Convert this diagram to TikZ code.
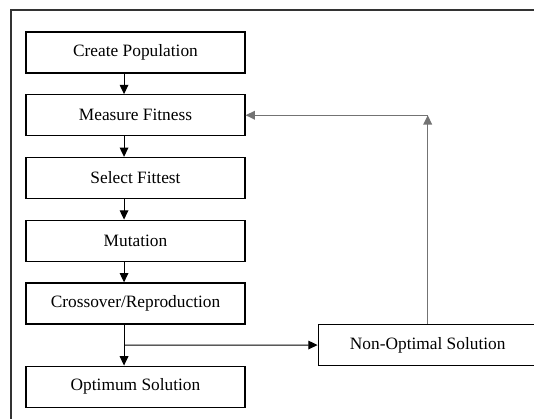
\documentclass[tikz,border=0pt]{standalone}
\usepackage{fontspec}
\setmainfont{Liberation Serif}
\usetikzlibrary{positioning, arrows.meta, calc}

\begin{document}
\begin{tikzpicture}[
  font=\fontsize{13}{15}\selectfont,
  node distance=15.4pt and 54pt,
  stage/.style={draw, line width=0.9pt, fill=white, minimum width=164.25pt,
                minimum height=30.75pt, inner sep=0pt, align=center},
  flow/.style={-{Triangle[length=7pt, width=6.5pt]}, line width=0.8pt, draw=black},
  back/.style={flow, line width=1pt, draw=black!55},
]
\useasboundingbox (0,0) rectangle (400.5pt,-313.5pt);
\clip (0,0) rectangle (400.5pt,-313.5pt);

% outer frame
\draw[line width=0.8pt, black!80] (8.25pt,-330pt) |- (420pt,-7.5pt);

\node[stage] (create) at (101.625pt,-39.375pt) {Create Population};
\node[stage, below=of create] (measure) {Measure Fitness};
\node[stage, below=of measure] (select) {Select Fittest};
\node[stage, below=of select] (mutate) {Mutation};
\node[stage, below=of mutate] (cross) {Crossover/Reproduction};
\node[stage, below=30.75pt of cross] (optimum) {Optimum Solution};

\node[stage, right=54pt of $(cross.east)!0.5!(optimum.east)$] (nonopt)
    {Non-Optimal Solution};

\draw[flow] ([xshift=-8.6pt]create.south) -- ([xshift=-8.6pt]measure.north);
\draw[flow] ([xshift=-8.6pt]measure.south) -- ([xshift=-8.6pt]select.north);
\draw[flow] ([xshift=-8.6pt]select.south) -- ([xshift=-8.6pt]mutate.north);
\draw[flow] ([xshift=-8.6pt]mutate.south) -- ([xshift=-8.6pt]cross.north);
\draw[flow] ([xshift=-8.6pt]cross.south) -- ([xshift=-8.6pt]optimum.north);

% branch to the non-optimal case
\coordinate (split) at ($([xshift=-8.6pt]cross.south)!0.5!([xshift=-8.6pt]optimum.north)$);
\draw[flow] (split) -- (nonopt.west);

% loop back to fitness
\coordinate (turn) at (nonopt.north |- measure.east);
\draw[back] (nonopt.north) -- (turn);
\draw[back] (turn) -- (measure.east);

\end{tikzpicture}
\end{document}
